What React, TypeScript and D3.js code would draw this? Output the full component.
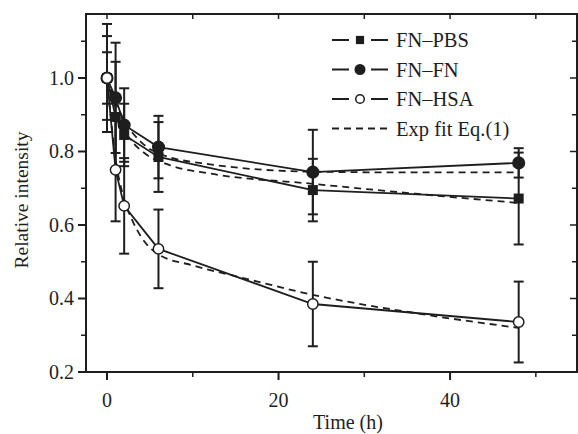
import React, { useEffect, useRef } from 'react';
import * as d3 from 'd3';

// measured time points (h)
const times = [0, 1, 2, 6, 24, 48];

const pbsVals = [1.0, 0.894, 0.845, 0.785, 0.695, 0.672];
const pbsErr = [0.07, 0.15, 0.085, 0.095, 0.085, 0.125];

const fnVals = [1.0, 0.946, 0.872, 0.812, 0.744, 0.769];
const fnErr = [0.114, 0.15, 0.1, 0.085, 0.115, 0.04];

const hsaVals = [1.0, 0.75, 0.652, 0.535, 0.385, 0.336];
const hsaErr = [0.147, 0.14, 0.13, 0.107, 0.115, 0.11];

// exp fit curves
const pbsFitT = [0, 1, 2, 3, 4.4, 7.3, 12, 24, 36, 48];
const pbsFitV = [1.0, 0.92, 0.86, 0.825, 0.795, 0.763, 0.74, 0.712, 0.685, 0.66];
const fnFitT = [0, 1, 2, 4, 6, 12, 24, 36, 48];
const fnFitV = [1.0, 0.935, 0.885, 0.825, 0.795, 0.765, 0.745, 0.743, 0.743];
const hsaFitT = [0, 1, 2, 3, 4, 6, 10, 16, 24, 36, 48];
const hsaFitV = [1.0, 0.78, 0.67, 0.61, 0.567, 0.52, 0.49, 0.455, 0.41, 0.36, 0.32];

const xTicks = [0, 20, 40];
const xMinor = [10, 30, 50];
const yTicks = [0.2, 0.4, 0.6, 0.8, 1.0];
const yMinor = [0.3, 0.5, 0.7, 0.9, 1.1];

const legendLabels = ['FN\u2013PBS', 'FN\u2013FN', 'FN\u2013HSA', 'Exp fit Eq.(1)'];

const ink = '#1e1e1e';
const font = '"Liberation Serif", "DejaVu Serif", serif';

export default function App() {
  const ref = useRef<SVGSVGElement>(null);

  useEffect(() => {
    const svg = d3.select(ref.current);
    svg.selectAll('*').remove();

    const left = 86, right = 577, top = 14, bottom = 372;
    const x = d3.scaleLinear().domain([-2.45, 54.8]).range([left, right]);
    const y = d3.scaleLinear().domain([0.2, 1.1741]).range([bottom, top]);

    const g = svg.append('g');

    // frame
    g.append('rect')
      .attr('x', left).attr('y', top)
      .attr('width', right - left).attr('height', bottom - top)
      .attr('fill', 'none').attr('stroke', ink).attr('stroke-width', 2);

    // ticks: outside on left/bottom, inside on top/right
    xTicks.forEach(t => {
      g.append('line').attr('x1', x(t)).attr('x2', x(t)).attr('y1', bottom).attr('y2', bottom + 8)
        .attr('stroke', ink).attr('stroke-width', 2);
      g.append('line').attr('x1', x(t)).attr('x2', x(t)).attr('y1', top).attr('y2', top + 5)
        .attr('stroke', ink).attr('stroke-width', 1.5);
      g.append('text').attr('x', x(t)).attr('y', 407).attr('text-anchor', 'middle')
        .attr('font-family', font).attr('font-size', 20).attr('fill', ink).text(t);
    });
    xMinor.forEach(t => {
      g.append('line').attr('x1', x(t)).attr('x2', x(t)).attr('y1', bottom).attr('y2', bottom + 5)
        .attr('stroke', ink).attr('stroke-width', 1.5);
      g.append('line').attr('x1', x(t)).attr('x2', x(t)).attr('y1', top).attr('y2', top + 5)
        .attr('stroke', ink).attr('stroke-width', 1.5);
    });
    yTicks.forEach(v => {
      g.append('line').attr('x1', left - 8).attr('x2', left).attr('y1', y(v)).attr('y2', y(v))
        .attr('stroke', ink).attr('stroke-width', 2);
      g.append('line').attr('x1', right - 7).attr('x2', right).attr('y1', y(v)).attr('y2', y(v))
        .attr('stroke', ink).attr('stroke-width', 1.5);
      g.append('text').attr('x', 74).attr('y', y(v)).attr('dy', '0.35em').attr('text-anchor', 'end')
        .attr('font-family', font).attr('font-size', 20).attr('fill', ink).text(v.toFixed(1));
    });
    yMinor.forEach(v => {
      g.append('line').attr('x1', left - 5).attr('x2', left).attr('y1', y(v)).attr('y2', y(v))
        .attr('stroke', ink).attr('stroke-width', 1.5);
      g.append('line').attr('x1', right - 5).attr('x2', right).attr('y1', y(v)).attr('y2', y(v))
        .attr('stroke', ink).attr('stroke-width', 1.5);
    });

    // axis titles
    g.append('text').attr('x', 348).attr('y', 429).attr('text-anchor', 'middle')
      .attr('font-family', font).attr('font-size', 20).attr('fill', ink).text('Time (h)');
    g.append('text').attr('transform', `translate(28, 200) rotate(-90)`).attr('text-anchor', 'middle')
      .attr('font-family', font).attr('font-size', 19.5).attr('fill', ink).text('Relative intensity');

    const series = [
      { vals: pbsVals, err: pbsErr, kind: 'square' },
      { vals: fnVals, err: fnErr, kind: 'dot' },
      { vals: hsaVals, err: hsaErr, kind: 'open' },
    ];

    // error bars
    series.forEach(s => {
      times.forEach((t, i) => {
        const lo = y(s.vals[i] - s.err[i]), hi = y(Math.min(s.vals[i] + s.err[i], 1.17));
        g.append('line').attr('x1', x(t)).attr('x2', x(t)).attr('y1', lo).attr('y2', hi)
          .attr('stroke', ink).attr('stroke-width', 2);
        [lo, hi].forEach(yy => {
          g.append('line').attr('x1', x(t) - 5).attr('x2', x(t) + 5).attr('y1', yy).attr('y2', yy)
            .attr('stroke', ink).attr('stroke-width', 2);
        });
      });
    });

    // fits
    const fitLine = d3.line<[number, number]>().x(d => x(d[0])).y(d => y(d[1])).curve(d3.curveMonotoneX);
    [[pbsFitT, pbsFitV], [fnFitT, fnFitV], [hsaFitT, hsaFitV]].forEach(([ts, vs]) => {
      g.append('path').attr('d', fitLine(ts.map((t, i) => [t, vs[i]]) as [number, number][]))
        .attr('fill', 'none').attr('stroke', ink).attr('stroke-width', 1.8).attr('stroke-dasharray', '7,5');
    });

    // data lines
    const dataLine = d3.line<number>().x((d, i) => x(times[i])).y(d => y(d));
    series.forEach(s => {
      g.append('path').attr('d', dataLine(s.vals)).attr('fill', 'none')
        .attr('stroke', ink).attr('stroke-width', 1.8);
    });

    const marker = (sel: any, kind: string, cx: number, cy: number, sc = 1) => {
      if (kind === 'square') {
        const h = 5 * sc;
        sel.append('rect').attr('x', cx - h).attr('y', cy - h).attr('width', 2 * h).attr('height', 2 * h)
          .attr('fill', ink);
      } else {
        sel.append('circle').attr('cx', cx).attr('cy', cy).attr('r', (kind === 'dot' ? 5.8 : 5.2) * sc)
          .attr('fill', kind === 'dot' ? ink : '#fff').attr('stroke', ink).attr('stroke-width', 1.5);
      }
    };

    series.forEach(s => {
      times.forEach((t, i) => marker(g, s.kind, x(t), y(s.vals[i])));
    });

    // legend
    const lx1 = 332, lx2 = 388, ly0 = 40, lstep = 29.5;
    legendLabels.forEach((lab, i) => {
      const yy = ly0 + i * lstep;
      const line = g.append('line').attr('x1', lx1).attr('x2', lx2).attr('y1', yy).attr('y2', yy)
        .attr('stroke', ink).attr('stroke-width', 1.8);
      if (i < 3) {
        line.attr('stroke-dasharray', '17,22');
        marker(g, series[i].kind, (lx1 + lx2) / 2, yy, 0.82);
      } else {
        line.attr('stroke-dasharray', '7,5');
      }
      g.append('text').attr('x', 396).attr('y', yy).attr('dy', '0.35em')
        .attr('font-family', font).attr('font-size', 20.5).attr('fill', ink).text(lab);
    });
  }, []);

  return (
    <svg ref={ref} width={578} height={434}
      style={{ position: 'absolute', left: 0, top: 0, background: '#fff' }} />
  );
}
